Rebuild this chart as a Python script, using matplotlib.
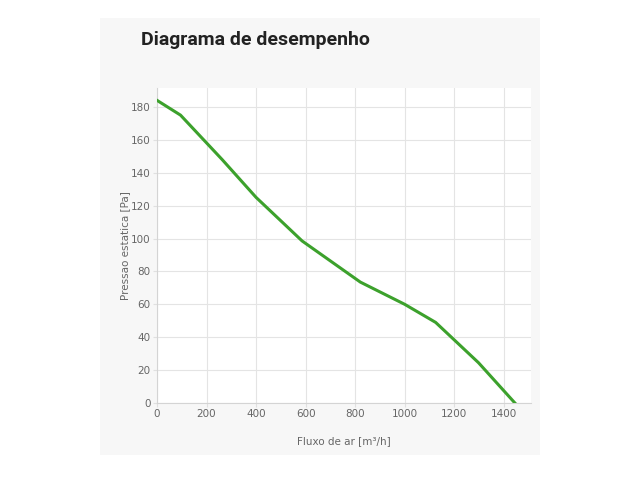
import matplotlib
matplotlib.use("Agg")
import matplotlib.pyplot as plt
from matplotlib.patches import Rectangle

flow = [0, 95, 263, 400, 586, 821, 1000, 1125, 1298, 1445]
pressure = [184, 175, 148, 125, 98.5, 73.5, 60, 49, 24.5, 0]
xticks = [0, 200, 400, 600, 800, 1000, 1200, 1400]
yticks = [0, 20, 40, 60, 80, 100, 120, 140, 160, 180]

fig = plt.figure(figsize=(6.4, 4.8), dpi=100)
fig.patch.set_facecolor("white")
bg = Rectangle((100/640, 1-455/480), 440/640, 437/480,
               transform=fig.transFigure, facecolor="#f7f7f7",
               edgecolor="none", zorder=-10)
fig.add_artist(bg)

ax = fig.add_axes([157/640, 1-403/480, 374/640, 315/480])
ax.set_facecolor("white")
ax.plot(flow, pressure, color="#3ca12c", lw=2.2, solid_joinstyle="round", zorder=3)
ax.set_xlim(0, 1510)
ax.set_ylim(0, 191.5)
ax.set_xticks(xticks)
ax.set_yticks(yticks)
ax.grid(True, color="#e4e4e4", lw=0.8)
for s in ["top", "right"]:
    ax.spines[s].set_visible(False)
for s in ["left", "bottom"]:
    ax.spines[s].set_color("#d4d4d4")
    ax.spines[s].set_linewidth(0.8)
ax.tick_params(labelcolor="#666666", color="#e0e0e0", labelsize=7.5,
               length=3, width=0.8, pad=1.5)
ax.set_xlabel("Fluxo de ar [m³/h]", fontsize=7.5, color="#666666", labelpad=12)
ax.set_ylabel("Pressao estatica [Pa]", fontsize=7.5, color="#666666", labelpad=1)

fig.text(141/640, 1-40/480, "Diagrama de desempenho", fontsize=14,
         fontweight="bold", family=["Roboto", "DejaVu Sans"],
         color="#222222", va="center", ha="left")

fig.savefig("out.png", dpi=100, facecolor="white")
